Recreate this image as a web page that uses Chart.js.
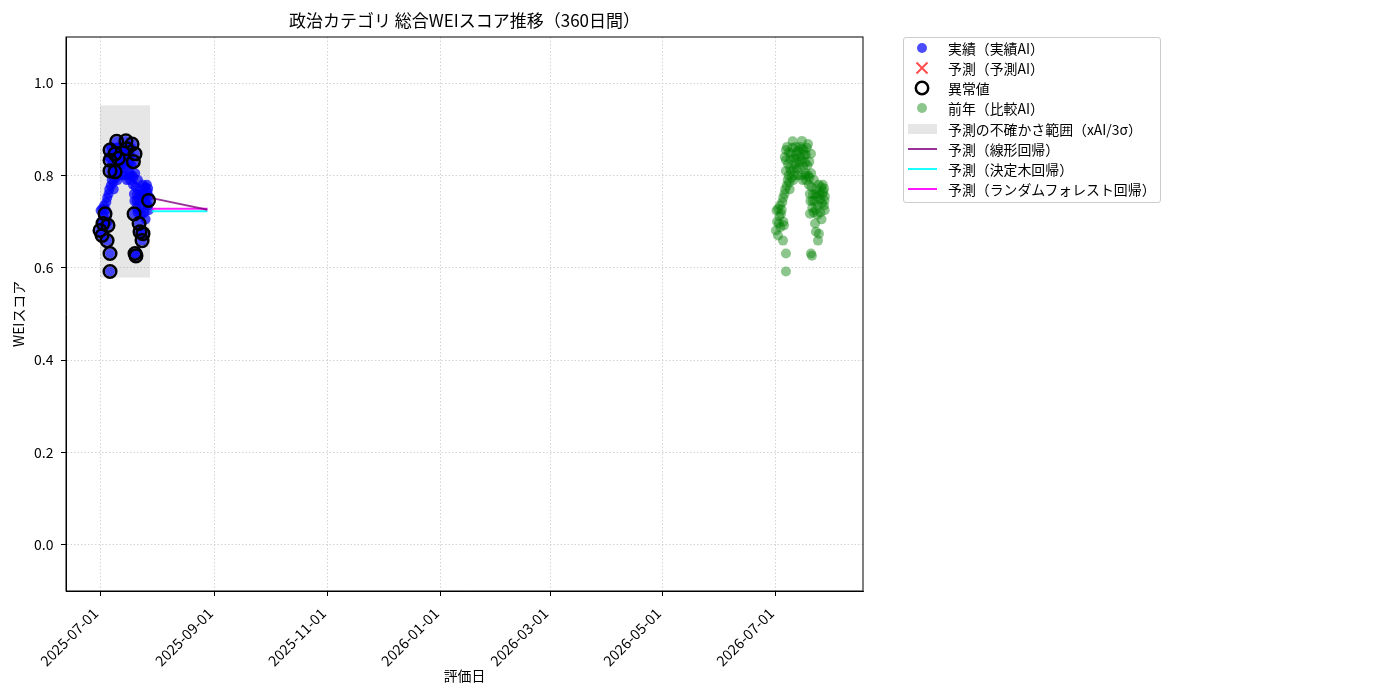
<!DOCTYPE html>
<html>
<head>
<meta charset="utf-8">
<script src="https://cdn.jsdelivr.net/npm/chart.js@4.4.1/dist/chart.umd.min.js"></script>
<style>
  html, body { margin: 0; padding: 0; background: #fff; }
  #wrap { position: relative; width: 1400px; height: 700px; font-family: "Noto Sans CJK JP", sans-serif; }
  #chart { position: absolute; left: 0; top: 0; }
  #legend {
    position: absolute; left: 903px; top: 37px; width: 258px; height: 166px;
    box-sizing: border-box; border: 1px solid #cccccc; border-radius: 3px; background: #fff;
  }
  .row { height: 20.14px; display: flex; align-items: center; font-size: 13.9px; color: #000; white-space: nowrap; }
  .row svg { width: 30px; height: 18px; margin-left: 3px; margin-right: 11px; flex: none; }
</style>
</head>
<body>
<div id="wrap">
  <canvas id="chart" width="1400" height="700"></canvas>
  <div id="legend">
    <div class="row"><svg viewBox="0 0 30 18"><circle cx="15" cy="9" r="5" fill="rgba(0,0,255,0.7)"/></svg>実績（実績AI）</div>
    <div class="row"><svg viewBox="0 0 30 18"><path d="M9.5 3.5 L20.5 14.5 M20.5 3.5 L9.5 14.5" stroke="rgba(255,0,0,0.7)" stroke-width="2"/></svg>予測（予測AI）</div>
    <div class="row"><svg viewBox="0 0 30 18"><circle cx="15" cy="9" r="6.2" fill="none" stroke="#000" stroke-width="2.5"/></svg>異常値</div>
    <div class="row"><svg viewBox="0 0 30 18"><circle cx="15" cy="9" r="5" fill="rgba(0,128,0,0.45)"/></svg>前年（比較AI）</div>
    <div class="row"><svg viewBox="0 0 30 18"><rect x="1" y="4" width="29" height="10" fill="rgba(128,128,128,0.2)"/></svg>予測の不確かさ範囲（xAI/3σ）</div>
    <div class="row"><svg viewBox="0 0 30 18"><line x1="1" y1="9" x2="30" y2="9" stroke="rgba(128,0,128,0.8)" stroke-width="2"/></svg>予測（線形回帰）</div>
    <div class="row"><svg viewBox="0 0 30 18"><line x1="1" y1="9" x2="30" y2="9" stroke="rgba(0,255,255,0.9)" stroke-width="2"/></svg>予測（決定木回帰）</div>
    <div class="row"><svg viewBox="0 0 30 18"><line x1="1" y1="9" x2="30" y2="9" stroke="rgba(255,0,255,0.9)" stroke-width="2"/></svg>予測（ランダムフォレスト回帰）</div>
  </div>
</div>
<script>
// --- data ---
const actualStart = "2025-07-01";
const compareStart = "2026-07-01";

// days after the start date, and scores (same profile for this year and last year)
const dayOffsets = [
  0.0, 0.3, 0.6, 1.1, 1.2, 1.6, 1.9, 2.2, 2.4, 2.7, 3.1, 3.4, 3.8, 3.9, 4.0, 4.3, 4.6, 4.8, 5.0, 5.4,
  5.4, 5.4, 5.4, 5.4, 5.8, 6.0, 6.3, 6.5, 6.8, 7.0, 7.2, 7.4, 7.6, 7.8, 8.1, 8.1, 8.5, 8.8, 9.0, 9.4,
  9.6, 9.9, 10.0, 10.3, 10.6, 10.8, 11.0, 11.3, 11.6, 11.8, 12.2, 12.5, 12.8, 13.0, 13.3, 13.6, 14.0, 14.2, 14.4, 14.5,
  14.8, 15.0, 15.5, 15.8, 15.8, 16.0, 16.2, 16.3, 16.7, 17.0, 17.3, 17.5, 17.8, 18.0, 18.0, 18.3, 18.4, 18.6, 18.9, 18.9,
  19.0, 19.2, 19.4, 19.6, 19.8, 20.0, 20.3, 20.5, 21.0, 21.1, 21.3, 21.5, 21.6, 21.8, 22.2, 22.4, 22.6, 22.7, 23.0, 23.2,
  23.5, 23.8, 24.0, 24.4, 24.6, 24.8, 25.0, 25.3, 25.6, 25.9, 26.0, 26.2, 26.3, 26.4
];
const actualScores = [
  0.681, 0.724, 0.700, 0.670, 0.728, 0.696, 0.712, 0.735, 0.688, 0.717, 0.726, 0.742, 0.659, 0.752, 0.700, 0.692, 0.760, 0.840, 0.770, 0.631,
  0.592, 0.855, 0.833, 0.810, 0.778, 0.862, 0.790, 0.825, 0.800, 0.850, 0.785, 0.770, 0.815, 0.835, 0.847, 0.808, 0.795, 0.860, 0.874, 0.790,
  0.815, 0.837, 0.800, 0.825, 0.862, 0.845, 0.835, 0.815, 0.852, 0.800, 0.855, 0.818, 0.830, 0.862, 0.840, 0.800, 0.875, 0.835, 0.858, 0.790,
  0.820, 0.855, 0.845, 0.800, 0.828, 0.805, 0.845, 0.790, 0.860, 0.822, 0.868, 0.800, 0.780, 0.830, 0.795, 0.760, 0.717, 0.745, 0.847, 0.631,
  0.805, 0.775, 0.626, 0.730, 0.745, 0.760, 0.720, 0.790, 0.745, 0.696, 0.725, 0.760, 0.678, 0.770, 0.755, 0.715, 0.735, 0.659, 0.780, 0.674,
  0.760, 0.748, 0.720, 0.775, 0.705, 0.740, 0.760, 0.780, 0.765, 0.735, 0.772, 0.746, 0.725, 0.755
];
const compareScores = actualScores.slice();

// anomalies (ringed points)
const anomalyOffsets = [
  0.0, 1.1, 1.6, 2.7, 3.8, 4.3, 5.4, 5.4, 5.4, 5.4, 5.4, 8.1, 8.1, 9.0, 9.9, 14.0, 14.4,
  17.3, 18.0, 18.4, 18.9, 18.9, 19.4, 21.1, 21.6, 22.7, 23.2, 26.2
];
const anomalyScores = [
  0.681, 0.670, 0.696, 0.717, 0.659, 0.692, 0.631, 0.592, 0.855, 0.833, 0.810, 0.847, 0.808, 0.874, 0.837, 0.875, 0.858,
  0.868, 0.830, 0.717, 0.847, 0.631, 0.626, 0.696, 0.678, 0.659, 0.674, 0.746
];

// uncertainty band
const bandDates = ["2025-07-01", "2025-07-28"];
const bandRange = [0.579, 0.952];

// forecasts
const predDates = ["2025-07-29", "2025-08-28"];
const predLinear = [0.751, 0.726];
const predTree = [0.7225, 0.7225];
const predForest = [0.728, 0.728];

// axes
const xTickLabels = ["2025-07-01", "2025-09-01", "2025-11-01", "2026-01-01", "2026-03-01", "2026-05-01", "2026-07-01"];
const yTickValues = [0.0, 0.2, 0.4, 0.6, 0.8, 1.0];
const xLimits = ["2025-06-12T15:00:00Z", "2026-08-17T00:00:00Z"];
const yLimits = [-0.1, 1.1];

const DAY = 86400000;
const t = s => Date.parse(s.length === 10 ? s + "T00:00:00Z" : s);
const toPoints = (start, offs, vals) => offs.map((d, i) => ({ x: t(start) + d * DAY, y: vals[i] }));
const linePoints = vals => predDates.map((d, i) => ({ x: t(d), y: vals[i] }));

const FONT = "'Noto Sans CJK JP', sans-serif";

const bandPlugin = {
  id: "band",
  beforeDatasetsDraw(chart) {
    const { ctx, scales: { x, y } } = chart;
    const x0 = x.getPixelForValue(t(bandDates[0]));
    const x1 = x.getPixelForValue(t(bandDates[1]));
    const y0 = y.getPixelForValue(bandRange[1]);
    const y1 = y.getPixelForValue(bandRange[0]);
    ctx.save();
    ctx.fillStyle = "rgba(128,128,128,0.2)";
    ctx.fillRect(x0, y0, x1 - x0, y1 - y0);
    ctx.restore();
  }
};

const framePlugin = {
  id: "frame",
  afterDatasetsDraw(chart) {
    const { ctx, chartArea: a } = chart;
    ctx.save();
    ctx.strokeStyle = "#000";
    ctx.lineWidth = 1;
    ctx.strokeRect(a.left, a.top, a.right - a.left, a.bottom - a.top);
    ctx.restore();
  }
};

new Chart(document.getElementById("chart"), {
  type: "scatter",
  data: {
    datasets: [
      {
        label: "異常値",
        data: toPoints(actualStart, anomalyOffsets, anomalyScores),
        pointRadius: 6.3, borderWidth: 2.5, borderColor: "#000", backgroundColor: "rgba(0,0,0,0)",
        order: 0
      },
      {
        label: "予測（線形回帰）", type: "line", showLine: true,
        data: linePoints(predLinear),
        borderColor: "rgba(128,0,128,0.8)", borderWidth: 2, pointRadius: 0, fill: false,
        order: 1
      },
      {
        label: "予測（ランダムフォレスト回帰）", type: "line", showLine: true,
        data: linePoints(predForest),
        borderColor: "rgba(255,0,255,0.9)", borderWidth: 2, pointRadius: 0, fill: false,
        order: 2
      },
      {
        label: "予測（決定木回帰）", type: "line", showLine: true,
        data: linePoints(predTree),
        borderColor: "rgba(0,255,255,0.9)", borderWidth: 2, pointRadius: 0, fill: false,
        order: 3
      },
      {
        label: "実績（実績AI）",
        data: toPoints(actualStart, dayOffsets, actualScores),
        pointRadius: 5, borderWidth: 0, backgroundColor: "rgba(0,0,255,0.7)",
        order: 4
      },
      {
        label: "前年（比較AI）",
        data: toPoints(compareStart, dayOffsets, compareScores),
        pointRadius: 5, borderWidth: 0, backgroundColor: "rgba(0,128,0,0.45)",
        order: 5
      }
    ]
  },
  options: {
    responsive: false,
    animation: false,
    devicePixelRatio: 1,
    layout: { autoPadding: false, padding: { left: 0, right: 537, top: 0, bottom: 0 } },
    plugins: {
      legend: { display: false },
      tooltip: { enabled: false },
      title: {
        display: true, fullSize: false,
        text: "政治カテゴリ 総合WEIスコア推移（360日間）",
        color: "#000",
        font: { family: FONT, size: 17, weight: "normal", lineHeight: 1.2 },
        padding: { top: 10, bottom: 6.6 }
      }
    },
    scales: {
      x: {
        type: "linear",
        min: t(xLimits[0]), max: t(xLimits[1]),
        afterBuildTicks: s => { s.ticks = xTickLabels.map(d => ({ value: t(d) })); },
        afterFit: s => { s.height = 109; },
        ticks: {
          minRotation: 45, maxRotation: 45, padding: 4, color: "#000",
          font: { family: FONT, size: 14.5 },
          // trailing spaces nudge the right-aligned rotated label down-left like matplotlib's ha="right"
          callback: v => new Date(v).toISOString().slice(0, 10) + "  "
        },
        grid: { color: "#c8c8c8", lineWidth: 0.8, tickLength: 5, tickColor: "#000", tickWidth: 1 },
        border: { color: "#000", width: 1, dash: [1.5, 2] },
        title: {
          display: true, text: "評価日", color: "#000",
          font: { family: FONT, size: 13.9 }, padding: { top: 0, bottom: 16 }
        }
      },
      y: {
        min: yLimits[0], max: yLimits[1],
        afterBuildTicks: s => { s.ticks = yTickValues.map(v => ({ value: v })); },
        afterFit: s => { s.width = 66; },
        ticks: {
          padding: 7.5, color: "#000",
          font: { family: FONT, size: 14 },
          callback: v => v.toFixed(1)
        },
        grid: { color: "#c8c8c8", lineWidth: 0.8, tickLength: 5, tickColor: "#000", tickWidth: 1 },
        border: { color: "#000", width: 1, dash: [1.5, 2] },
        title: {
          display: true, text: "WEIスコア", color: "#000",
          font: { family: FONT, size: 13.9 }, padding: { top: 10, bottom: 0 }
        }
      }
    }
  },
  plugins: [bandPlugin, framePlugin]
});
</script>
</body>
</html>
